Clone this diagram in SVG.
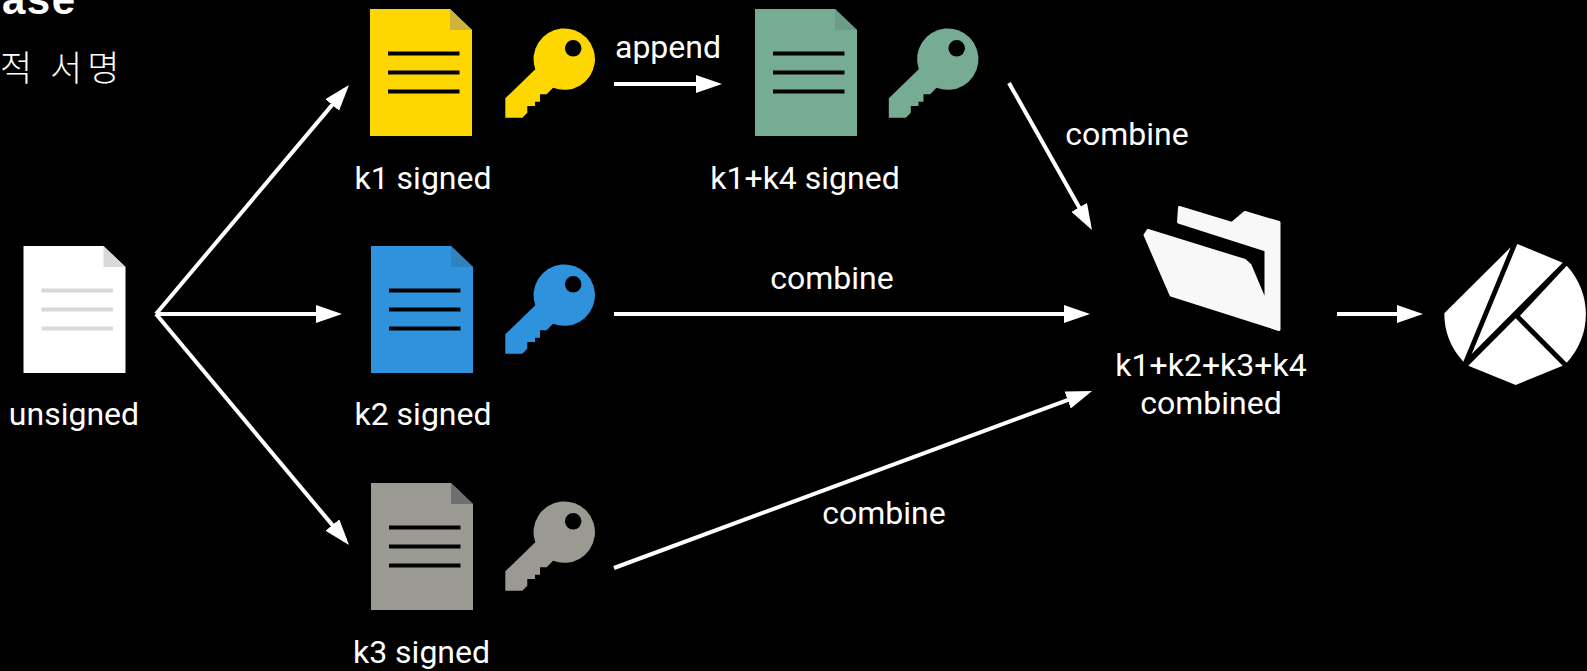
<svg xmlns="http://www.w3.org/2000/svg" width="1587" height="671" viewBox="0 0 1587 671">
<style>
text{font-family:Roboto,"Noto Sans",sans-serif;font-size:32px;fill:#fff;text-anchor:middle}
.c line{stroke:#fff;stroke-width:4;fill:none;marker-end:url(#a)}
.l{stroke:#000;stroke-width:4}
</style>
<defs>
<marker id="a" markerUnits="userSpaceOnUse" markerWidth="28" markerHeight="20" refX="20" refY="9" orient="auto"><path d="M0 0L26 9L0 18Z" fill="#fff"/></marker>
<path id="sheet" d="M0 0H80L102 21V127H0Z"/>
<g id="doc"><use href="#sheet"/><path class="l" d="M18 44.500H89.500M18 63.500H89.500M18 82.500H89.500"/></g>
<path id="fold" d="M80 0L102 21H80Z"/>
<path id="key" fill-rule="evenodd" d="M535.300 69.300L505.300 98.300V117.700H522.300L527.300 112.700V106H535V101.700H540V94.300H546.700L553 87.700A30.700 30.700 0 1 0 535.300 69.300ZM581.500 48.300A8.300 8.300 0 1 1 564.900 48.300A8.300 8.300 0 1 1 581.500 48.300Z"/>
</defs>
<rect width="1587" height="671" fill="#000"/>
<g id="title"><text x="2" y="14" style="font-family:'Liberation Sans',sans-serif;font-weight:700;font-size:42px;letter-spacing:1.500px;text-anchor:start">ase</text><text x="0" y="81" style="font-family:'Noto Sans CJK KR',sans-serif;font-weight:300;font-size:35px;letter-spacing:5px;text-anchor:start">적 서명</text></g>
<g class="c" id="connectors">
<line x1="156" y1="314" x2="345.100" y2="89.600"/>
<line x1="156" y1="314" x2="336" y2="314"/>
<line x1="156" y1="314" x2="345.200" y2="540.400"/>
<line x1="614" y1="84" x2="716" y2="84"/>
<line x1="614" y1="314" x2="1084" y2="314"/>
<line x1="614" y1="568" x2="1086.400" y2="393.100"/>
<line x1="1009" y1="83" x2="1089" y2="224.800"/>
<line x1="1337" y1="314" x2="1417" y2="314"/>
</g>
<g id="unsigned"><use href="#sheet" x="23.500" y="246" fill="#fff"/><use href="#fold" x="23.500" y="246" fill="#d9d9d9"/><path d="M41.500 290.500H113M41.500 309.500H113M41.500 328.500H113" stroke="#d9d9d9" stroke-width="4"/><text x="74" y="425">unsigned</text></g>
<g id="k1"><use href="#doc" x="370" y="9" fill="#fed700"/><use href="#fold" x="370" y="9" fill="#cfb43c"/><use href="#key" fill="#fed700"/><text x="423" y="189">k1 signed</text></g>
<g id="k4"><use href="#doc" x="755" y="9" fill="#76ab94"/><use href="#fold" x="755" y="9" fill="#6a9c86"/><use href="#key" x="383.500" fill="#76ab94"/><text x="805" y="189">k1+k4 signed</text></g>
<g id="k2"><use href="#doc" x="371" y="246" fill="#2f92dd"/><use href="#fold" x="371" y="246" fill="#2f82bd"/><use href="#key" y="236" fill="#2f92dd"/><text x="423" y="425">k2 signed</text></g>
<g id="k3"><use href="#doc" x="371" y="483" fill="#9a9a92"/><use href="#fold" x="371" y="483" fill="#6e6e70"/><use href="#key" y="473" fill="#9a9a92"/><text x="421.500" y="663">k3 signed</text></g>
<g id="folder"><path fill="#f8f8f8" stroke="#f8f8f8" stroke-width="3" stroke-linejoin="round" d="M1179.500 207.500L1232 223.500L1245 212.500L1279 222.500V329.500L1171 295L1145 235L1148 230.500L1245 260.500L1250 265L1266 303V250L1178.500 222Z"/><text x="1211" y="376">k1+k2+k3+k4</text><text x="1211" y="414">combined</text></g>
<g id="klaytn" fill="#fff"><path d="M1510.700 247.300L1444.300 313.300A71 71 0 0 0 1463.300 361.700Z"/><path d="M1517.300 244L1562.700 262.700L1471.700 354Z"/><path d="M1566.700 265.700A71 71 0 0 1 1566.700 362.700L1520 315.700Z"/><path d="M1515.700 318.300L1562.700 365.700L1515.700 385L1468.300 365.700Z"/></g>
<g id="labels"><text x="668" y="58">append</text><text x="1127" y="145">combine</text><text x="832" y="289">combine</text><text x="884" y="524">combine</text></g>
</svg>
